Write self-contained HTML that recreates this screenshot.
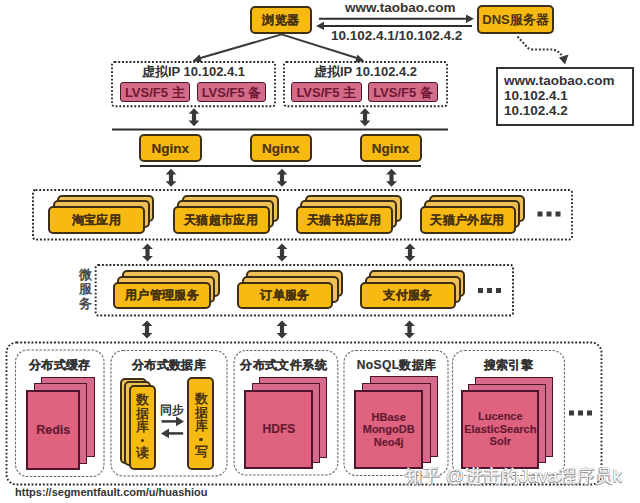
<!DOCTYPE html>
<html><head><meta charset="utf-8">
<style>
html,body{margin:0;padding:0;background:#fff;}
body{width:640px;height:503px;position:relative;overflow:hidden;font-family:"Liberation Sans",sans-serif;}
.a{position:absolute;box-sizing:border-box;}
.y{position:absolute;box-sizing:border-box;background:#f7ba12;border:2px solid #3e2f14;border-radius:5px;color:#4a3410;font-weight:bold;font-size:12px;letter-spacing:0.4px;display:flex;align-items:center;justify-content:center;white-space:nowrap;-webkit-text-stroke:0.25px #4a3410;padding-top:1px;}
.yb{position:absolute;box-sizing:border-box;background:#efc056;border:2px solid #3e2f14;border-radius:5px;}
.lvs{position:absolute;box-sizing:border-box;background:#d46b88;border:1.9px solid #45182a;border-radius:3px;color:#6e1836;padding-top:1px;font-weight:bold;font-size:13px;display:flex;align-items:center;justify-content:center;white-space:nowrap;}
.pk{position:absolute;box-sizing:border-box;background:#df627f;border:2px solid #521530;}
.pkb{position:absolute;box-sizing:border-box;background:#d56a8a;border:1.7px solid #4e1428;}
.pt{position:absolute;color:#641a32;-webkit-text-stroke:0.15px #641a32;font-weight:bold;font-size:12px;text-align:center;line-height:12.5px;white-space:nowrap;}
.t{position:absolute;white-space:nowrap;font-weight:bold;}
.ttl{position:absolute;white-space:nowrap;font-weight:bold;font-size:12px;letter-spacing:0.4px;color:#333;text-align:center;-webkit-text-stroke:0.2px #333;}
svg{position:absolute;left:0;top:0;}
</style></head><body>
<svg width="640" height="503" viewBox="0 0 640 503">
<defs>
<marker id="ah" viewBox="0 0 10 10" refX="9" refY="5" markerWidth="4" markerHeight="4" orient="auto"><path d="M0,0 L10,5 L0,10 z" fill="#3a3a3a"/></marker>
<g id="darr"><path d="M0,-9 L5.4,-3.4 L2.1,-3.4 L2.1,3.4 L5.4,3.4 L0,9 L-5.4,3.4 L-2.1,3.4 L-2.1,-3.4 L-5.4,-3.4 z" fill="#383838"/></g>
</defs>
<!-- top arrows -->
<line x1="319" y1="18.8" x2="470" y2="18.8" stroke="#2e2e2e" stroke-width="2"/>
<path d="M474,18.8 L466,14.5 L466,23.1 z" fill="#3a3a3a"/>
<line x1="320" y1="25.9" x2="472" y2="25.9" stroke="#2e2e2e" stroke-width="2"/>
<path d="M316,25.9 L324,21.8 L324,30 z" fill="#3a3a3a"/>
<!-- browser to VIP -->
<line x1="281.6" y1="34.4" x2="197" y2="59" stroke="#3a3a3a" stroke-width="2"/>
<path d="M192.5,61 L199.5,54.5 L202,62.5 z" fill="#3a3a3a"/>
<line x1="281.6" y1="34.4" x2="360" y2="59" stroke="#3a3a3a" stroke-width="2"/>
<path d="M364.4,61 L355,62.5 L357.5,54.5 z" fill="#3a3a3a"/>
<!-- DNS dotted curve -->
<path d="M517.5,36.5 L527.5,47.5 Q529.5,49.5 533,49.5 L552,49.5 Q557,49.8 561.5,55" fill="none" stroke="#3a3a3a" stroke-width="2.2" stroke-dasharray="2 1.8"/>
<path d="M565,64.5 L559,57.5 L568.5,54.5 z" fill="#3a3a3a"/>
<!-- VIP dotted boxes -->
<rect x="112" y="62" width="163" height="44.3" rx="2.5" fill="none" stroke="#2a2a2a" stroke-width="1.9" stroke-dasharray="1.9 1.85"/>
<rect x="284" y="62" width="163" height="44.3" rx="2.5" fill="none" stroke="#2a2a2a" stroke-width="1.9" stroke-dasharray="1.9 1.85"/>
<!-- double arrows -->
<use href="#darr" x="194" y="117.2"/>
<use href="#darr" x="365" y="117.2"/>
<line x1="112" y1="129.4" x2="448" y2="129.4" stroke="#2a2a2a" stroke-width="2"/>
<line x1="140" y1="166" x2="421" y2="166" stroke="#2a2a2a" stroke-width="2"/>
<use href="#darr" x="171" y="177.8"/>
<use href="#darr" x="282" y="177.8"/>
<use href="#darr" x="391.5" y="177.8"/>
<!-- apps container -->
<rect x="33" y="190" width="539" height="49.5" rx="2.5" fill="none" stroke="#2a2a2a" stroke-width="1.9" stroke-dasharray="1.9 1.85"/>
<use href="#darr" x="147.5" y="252.5"/>
<use href="#darr" x="282" y="252.5"/>
<use href="#darr" x="410" y="252.5"/>
<!-- services container -->
<rect x="95.7" y="265" width="417.3" height="50.5" rx="2.5" fill="none" stroke="#2a2a2a" stroke-width="1.9" stroke-dasharray="1.9 1.85"/>
<use href="#darr" x="147" y="329.5"/>
<use href="#darr" x="282" y="329.5"/>
<use href="#darr" x="409.5" y="329.5"/>
<!-- storage container -->
<rect x="6.5" y="342.5" width="595" height="142" rx="10" fill="none" stroke="#2a2a2a" stroke-width="1.9" stroke-dasharray="1.9 1.85"/>
<rect x="15.5" y="350" width="88.5" height="126.5" rx="12" fill="none" stroke="#6a6a6a" stroke-width="1.1" stroke-dasharray="2.5 1.5"/>
<rect x="111" y="350.5" width="116" height="125.5" rx="12" fill="none" stroke="#6a6a6a" stroke-width="1.1" stroke-dasharray="2.5 1.5"/>
<rect x="234" y="350.5" width="103.8" height="124.5" rx="12" fill="none" stroke="#6a6a6a" stroke-width="1.1" stroke-dasharray="2.5 1.5"/>
<rect x="344" y="350.5" width="104" height="125" rx="12" fill="none" stroke="#6a6a6a" stroke-width="1.1" stroke-dasharray="2.5 1.5"/>
<rect x="452.5" y="350.5" width="112" height="125" rx="12" fill="none" stroke="#6a6a6a" stroke-width="1.1" stroke-dasharray="2.5 1.5"/>
<!-- sync arrows -->
<line x1="161.5" y1="421.4" x2="177" y2="421.4" stroke="#3a3a3a" stroke-width="2.5"/>
<path d="M184,421.4 L176,416.5 L176,426.3 z" fill="#3a3a3a"/>
<line x1="168" y1="433.4" x2="183.2" y2="433.4" stroke="#3a3a3a" stroke-width="2.5"/>
<path d="M161,433.4 L169,428.5 L169,438.3 z" fill="#3a3a3a"/>
<!-- ellipsis dots -->
<g fill="#3a3a3a">
<rect x="537.5" y="211.5" width="5" height="5"/><rect x="546.5" y="211.5" width="5" height="5"/><rect x="555.5" y="211.5" width="5" height="5"/>
<rect x="478" y="288" width="5" height="5"/><rect x="487" y="288" width="5" height="5"/><rect x="496" y="288" width="5" height="5"/>
<rect x="569" y="410.5" width="5" height="5"/><rect x="578" y="410.5" width="5" height="5"/><rect x="587" y="410.5" width="5" height="5"/>
</g>
</svg>

<!-- top boxes -->
<div class="y" style="left:250px;top:5.5px;width:62px;height:28px;">浏览器</div>
<div class="y" style="left:477px;top:5px;width:77px;height:29px;font-size:13px;letter-spacing:0;-webkit-text-stroke:0;">DNS服务器</div>
<div class="t" style="left:345px;top:0px;font-size:13.5px;color:#333;line-height:15px;">www.taobao.com</div>
<div class="t" style="left:331px;top:28px;font-size:13.5px;color:#333;line-height:15px;">10.102.4.1/10.102.4.2</div>
<div class="a" style="left:496px;top:66.8px;width:138px;height:59px;border:2px solid #333;"></div>
<div class="t" style="left:504px;top:74px;font-size:13.5px;color:#333;line-height:14.8px;">www.taobao.com<br>10.102.4.1<br>10.102.4.2</div>

<!-- VIP -->
<div class="ttl" style="left:112px;top:64px;width:163px;font-size:13px;letter-spacing:0;line-height:16px;-webkit-text-stroke:0;">虚拟IP 10.102.4.1</div>
<div class="ttl" style="left:284px;top:64px;width:163px;font-size:13px;letter-spacing:0;line-height:16px;-webkit-text-stroke:0;">虚拟IP 10.102.4.2</div>
<div class="lvs" style="left:119.5px;top:82px;width:70.5px;height:20px;">LVS/F5 主</div>
<div class="lvs" style="left:197px;top:82px;width:69px;height:20px;">LVS/F5 备</div>
<div class="lvs" style="left:291px;top:82px;width:70.5px;height:20px;">LVS/F5 主</div>
<div class="lvs" style="left:368px;top:82px;width:70px;height:20px;">LVS/F5 备</div>

<!-- Nginx -->
<div class="y" style="left:139px;top:133.5px;width:62.5px;height:28px;font-size:13.5px;letter-spacing:0;-webkit-text-stroke:0.2px #4a3410;">Nginx</div>
<div class="y" style="left:249.5px;top:133.5px;width:62.5px;height:28px;font-size:13.5px;letter-spacing:0;-webkit-text-stroke:0.2px #4a3410;">Nginx</div>
<div class="y" style="left:359.5px;top:133.5px;width:62px;height:28px;font-size:13.5px;letter-spacing:0;-webkit-text-stroke:0.2px #4a3410;">Nginx</div>

<!-- apps -->
<div class="yb" style="left:57px;top:194.5px;width:97px;height:27.5px;"></div>
<div class="yb" style="left:52.5px;top:200px;width:97px;height:27.5px;"></div>
<div class="y" style="left:48px;top:205.75px;width:97px;height:28px;">淘宝应用</div>

<div class="yb" style="left:181.5px;top:194.5px;width:97px;height:27.5px;"></div>
<div class="yb" style="left:177px;top:200px;width:97px;height:27.5px;"></div>
<div class="y" style="left:172.5px;top:205.75px;width:97px;height:28px;">天猫超市应用</div>

<div class="yb" style="left:304.5px;top:194.5px;width:97px;height:27.5px;"></div>
<div class="yb" style="left:300px;top:200px;width:97px;height:27.5px;"></div>
<div class="y" style="left:295.5px;top:205.75px;width:97px;height:28px;">天猫书店应用</div>

<div class="yb" style="left:428.5px;top:194.5px;width:96px;height:27.5px;"></div>
<div class="yb" style="left:424px;top:200px;width:96px;height:27.5px;"></div>
<div class="y" style="left:419.5px;top:205.75px;width:96px;height:28px;">天猫户外应用</div>

<!-- services -->
<div class="t" style="left:78.5px;top:267.5px;font-size:13px;line-height:14.7px;color:#4a4a4a;">微<br>服<br>务</div>
<div class="yb" style="left:121.5px;top:270px;width:98px;height:27px;"></div>
<div class="yb" style="left:117.25px;top:276px;width:98px;height:27px;"></div>
<div class="y" style="left:113px;top:281.8px;width:98px;height:27px;">用户管理服务</div>

<div class="yb" style="left:246px;top:270px;width:97px;height:27px;"></div>
<div class="yb" style="left:241.5px;top:276px;width:97px;height:27px;"></div>
<div class="y" style="left:237px;top:281.8px;width:96px;height:27px;">订单服务</div>

<div class="yb" style="left:369px;top:270px;width:96px;height:27px;"></div>
<div class="yb" style="left:364.5px;top:276px;width:96px;height:27px;"></div>
<div class="y" style="left:360px;top:281.8px;width:96px;height:27px;">支付服务</div>

<!-- storage titles -->
<div class="ttl" style="left:15.5px;top:357px;width:88.5px;line-height:16px;">分布式缓存</div>
<div class="ttl" style="left:111px;top:357px;width:116px;line-height:16px;">分布式数据库</div>
<div class="ttl" style="left:231.5px;top:357px;width:104.3px;line-height:16px;">分布式文件系统</div>
<div class="ttl" style="left:343.5px;top:357px;width:106.3px;line-height:16px;">NoSQL数据库</div>
<div class="ttl" style="left:452.5px;top:357px;width:112px;line-height:16px;">搜索引擎</div>

<!-- redis stack -->
<div class="pkb" style="left:41px;top:376.5px;width:53.5px;height:80.5px;"></div>
<div class="pkb" style="left:33.5px;top:383px;width:53px;height:80.5px;"></div>
<div class="pk" style="left:26.3px;top:389.8px;width:53.8px;height:80px;"></div>
<div class="pt" style="left:26.3px;top:424px;width:53.8px;font-size:12.5px;">Redis</div>

<!-- db read stack -->
<div class="yb" style="left:119.8px;top:377.6px;width:27.3px;height:86px;"></div>
<div class="yb" style="left:124.2px;top:381.4px;width:27.3px;height:85px;"></div>
<div class="y" style="left:128.6px;top:385.3px;width:27.3px;height:84.3px;"></div>
<div class="t" style="left:128.6px;top:393px;width:27.3px;text-align:center;font-size:13px;line-height:13.6px;color:#4a3510;">数<br>据<br>库</div>
<div class="a" style="left:140.5px;top:438.8px;width:3.5px;height:3.5px;border-radius:1.75px;background:#4a3510;"></div>
<div class="t" style="left:128.6px;top:445.5px;width:27.3px;text-align:center;font-size:13px;line-height:13.6px;color:#4a3510;">读</div>
<div class="y" style="left:187.3px;top:377px;width:27.2px;height:92.5px;"></div>
<div class="t" style="left:187.6px;top:392px;width:27px;text-align:center;font-size:13px;line-height:13.6px;color:#4a3510;">数<br>据<br>库</div>
<div class="a" style="left:199.3px;top:437.8px;width:3.5px;height:3.5px;border-radius:1.75px;background:#4a3510;"></div>
<div class="t" style="left:187.6px;top:444.5px;width:27px;text-align:center;font-size:13px;line-height:13.6px;color:#4a3510;">写</div>
<div class="t" style="left:159.5px;top:403px;font-size:12px;line-height:14px;color:#333;">同步</div>

<!-- HDFS stack -->
<div class="pkb" style="left:258.5px;top:376.5px;width:68px;height:81px;"></div>
<div class="pkb" style="left:251.5px;top:383px;width:68px;height:79.5px;"></div>
<div class="pk" style="left:244.4px;top:389.8px;width:69px;height:79.2px;"></div>
<div class="pt" style="left:244.4px;top:423px;width:69px;font-size:12px;">HDFS</div>

<!-- NoSQL stack -->
<div class="pkb" style="left:369.5px;top:376.2px;width:68.5px;height:81.3px;"></div>
<div class="pkb" style="left:362px;top:383px;width:68.5px;height:80px;"></div>
<div class="pk" style="left:354.4px;top:389.6px;width:68.6px;height:79.2px;"></div>
<div class="pt" style="left:354.4px;top:410.5px;width:68.6px;font-size:11px;">HBase<br>MongoDB<br>Neo4j</div>

<!-- Search stack -->
<div class="pkb" style="left:475.3px;top:376.6px;width:77.5px;height:80.6px;"></div>
<div class="pkb" style="left:468.2px;top:383.5px;width:78px;height:79.3px;"></div>
<div class="pk" style="left:461.3px;top:389.7px;width:78px;height:79.3px;"></div>
<div class="pt" style="left:461.3px;top:410px;width:78px;font-size:11px;">Lucence<br>ElasticSearch<br>Solr</div>

<!-- footer -->
<div class="t" style="left:15px;top:485.7px;font-size:11px;line-height:12px;color:#333;">https://segmentfault.com/u/huashiou</div>
<div class="t" style="left:404px;top:466.5px;font-size:18px;letter-spacing:0.25px;line-height:19px;color:#fff;font-weight:normal;text-shadow:-0.5px -0.5px 0 #999,0.5px 0.5px 0 #999,0.5px -0.5px 0 #999,-0.5px 0.5px 0 #999;">知乎 @进击的Java程序员k</div>
</body></html>
